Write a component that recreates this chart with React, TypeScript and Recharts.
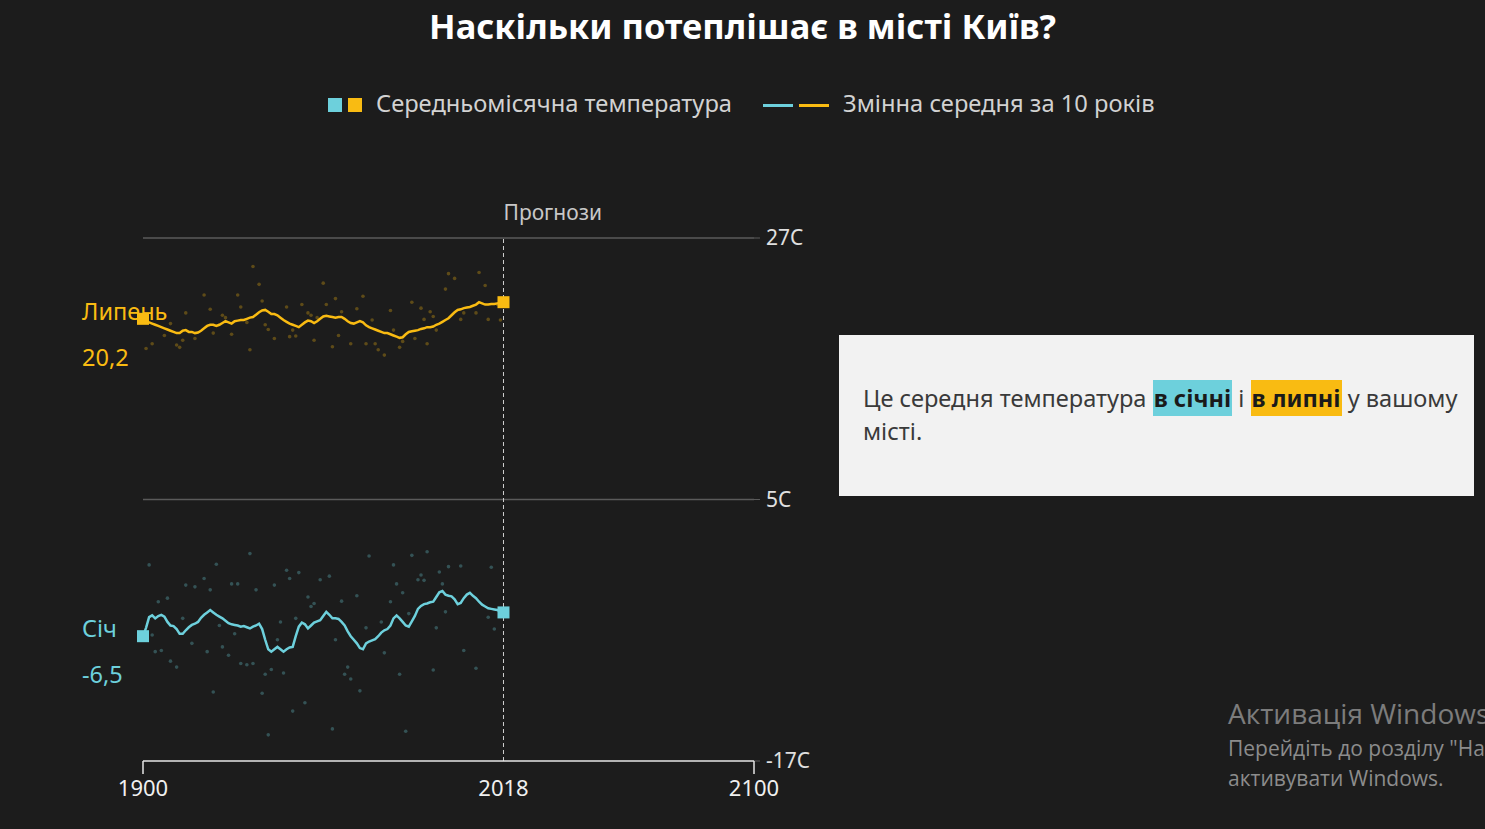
import {
  ComposedChart,
  Line,
  Scatter,
  XAxis,
  YAxis,
  ReferenceLine,
} from 'recharts';

const startYear = 1900;

// 10-year moving average, July (1900..2018)
const julyAvg = [
  20.2, 20.0, 19.9, 19.8, 19.7, 19.6, 19.5, 19.4, 19.3, 19.2,
  19.1, 19.0, 19.0, 19.2, 19.25, 19.1, 19.1, 19.0, 19.05, 19.2,
  19.4, 19.6, 19.7, 19.7, 19.6, 19.7, 19.85, 20.0, 19.9, 19.8,
  20.0, 20.05, 20.1, 20.1, 20.2, 20.3, 20.35, 20.55, 20.75, 20.9,
  20.95, 20.8, 20.6, 20.6, 20.5, 20.3, 20.1, 19.95, 19.8, 19.7,
  19.6, 19.5, 19.7, 19.9, 20.05, 20.0, 19.85, 20.0, 20.2, 20.4,
  20.45, 20.4, 20.35, 20.3, 20.35, 20.35, 20.2, 20.0, 19.85, 19.8,
  19.9, 20.0, 19.9, 19.65, 19.5, 19.4, 19.3, 19.2, 19.1, 19.0,
  19.0, 18.9, 18.8, 18.7, 18.6, 18.65, 18.9, 19.1, 19.15, 19.2,
  19.25, 19.35, 19.4, 19.5, 19.5, 19.55, 19.7, 19.8, 19.95, 20.1,
  20.25, 20.5, 20.75, 20.95, 21.0, 21.1, 21.15, 21.2, 21.3, 21.4,
  21.6, 21.5, 21.4, 21.4, 21.45, 21.45, 21.5, 21.55, 21.6,
];

// 10-year moving average, January (1900..2018)
const janAvg = [
  -6.5, -5.8, -4.9, -4.75, -5.0, -4.8, -4.7, -4.85, -5.3, -5.6,
  -5.65, -5.9, -6.3, -6.3, -6.0, -5.75, -5.55, -5.45, -5.3, -4.95,
  -4.7, -4.5, -4.3, -4.5, -4.7, -4.85, -5.0, -5.2, -5.4, -5.5,
  -5.55, -5.6, -5.7, -5.65, -5.75, -5.85, -5.7, -5.6, -5.45, -5.9,
  -6.8, -7.6, -7.8, -7.6, -7.4, -7.6, -7.8, -7.6, -7.45, -7.4,
  -6.5, -5.7, -5.35, -5.5, -5.85, -5.6, -5.35, -5.25, -5.15, -4.8,
  -4.45, -4.7, -5.0, -5.0, -5.05, -5.3, -5.6, -6.1, -6.5, -6.8,
  -7.1, -7.5, -7.6, -7.1, -6.95, -6.85, -6.75, -6.5, -6.2, -6.0,
  -5.9, -5.6, -5.0, -4.75, -5.0, -5.3, -5.6, -5.7, -5.25, -4.8,
  -4.2, -3.95, -3.8, -3.75, -3.65, -3.6, -3.2, -2.8, -2.7, -3.0,
  -3.1, -3.15, -3.4, -3.8, -3.7, -3.3, -3.0, -2.85, -3.1, -3.3,
  -3.6, -3.85, -4.0, -4.15, -4.2, -4.25, -4.3, -4.4, -4.5,
];

// yearly values [year, temp]
const julyDots: [number, number][] = [
  [1901, 17.7], [1903, 18.1], [1907, 18.8], [1909, 19.8], [1911, 18.0], [1912, 17.8],
  [1913, 18.4], [1914, 20.7], [1917, 18.55], [1920, 22.2], [1922, 21.0], [1923, 19.0],
  [1926, 20.5], [1927, 20.3], [1929, 18.9], [1931, 22.2], [1932, 21.2], [1934, 19.9],
  [1935, 17.6], [1936, 24.6], [1938, 23.1], [1939, 21.7], [1940, 19.7], [1941, 19.3],
  [1943, 18.55], [1947, 21.2], [1948, 18.7], [1949, 19.25], [1950, 18.75], [1952, 21.4],
  [1954, 20.7], [1955, 20.5], [1956, 18.4], [1957, 20.3], [1959, 23.2], [1960, 21.4],
  [1962, 17.85], [1963, 21.9], [1964, 18.8], [1965, 20.8], [1968, 18.1], [1970, 21.05],
  [1972, 22.1], [1973, 18.1], [1975, 20.1], [1976, 18.1], [1977, 17.6], [1979, 17.15],
  [1981, 20.9], [1982, 19.25], [1984, 17.8], [1985, 18.3], [1988, 21.6], [1989, 18.55],
  [1991, 21.1], [1992, 20.15], [1993, 18.1], [1994, 20.8], [1995, 20.4], [1996, 19.25],
  [1999, 22.7], [2000, 24.0], [2002, 23.6], [2004, 20.15], [2005, 20.7], [2009, 20.7],
  [2010, 24.1], [2012, 23.0], [2013, 20.15], [2016, 21.4], [2017, 20.1],
];

const janDots: [number, number][] = [
  [1902, -0.5], [1903, -6.4], [1904, -7.8], [1905, -3.6], [1906, -7.7], [1908, -3.3],
  [1909, -8.6], [1911, -9.1], [1913, -5.0], [1914, -2.2], [1916, -7.1], [1917, -2.35],
  [1920, -1.65], [1921, -7.8], [1922, -2.6], [1923, -11.2], [1924, -0.45], [1925, -5.6],
  [1926, -7.4], [1928, -8.1], [1929, -2.1], [1930, -6.3], [1931, -2.1], [1932, -8.8],
  [1934, -8.9], [1935, 0.45], [1936, -8.8], [1937, -2.6], [1939, -11.3], [1940, -9.7],
  [1941, -14.8], [1942, -9.3], [1943, -2.2], [1944, -6.8], [1945, -5.3], [1946, -9.6],
  [1947, -0.95], [1948, -1.65], [1949, -12.8], [1950, -5.0], [1951, -1.15], [1953, -12.1],
  [1954, -3.2], [1955, -4.0], [1956, -3.75], [1958, -1.75], [1961, -1.45], [1962, -14.3],
  [1963, -6.8], [1965, -3.55], [1966, -9.7], [1967, -9.1], [1968, -10.1], [1970, -3.1],
  [1971, -11.1], [1973, -5.8], [1974, 0.25], [1978, -5.3], [1979, -7.9], [1981, -3.6],
  [1982, -0.5], [1983, -2.1], [1984, -9.7], [1985, -2.85], [1986, -14.5], [1987, -4.6],
  [1988, 0.3], [1990, -1.75], [1991, -1.35], [1992, -1.8], [1993, 0.6], [1995, -9.35],
  [1996, -5.8], [1997, -1.1], [1998, -2.1], [1999, -4.45], [2000, -0.65], [2004, -0.6],
  [2005, -7.7], [2009, -9.2], [2013, -4.9], [2014, -0.7], [2015, -5.9],
];

const xTicks = [1900, 2018, 2100];
const yTicks = [-17, 5, 27];

const YELLOW = '#f9bb12';
const CYAN = '#6dd0dc';
const BG = '#1c1c1c';
const FONT = '"Noto Sans", sans-serif';

const lineData = julyAvg.map((v, i) => ({ year: startYear + i, jul: v, jan: janAvg[i] }));
const julyDotData = julyDots.map(([year, t]) => ({ year, t }));
const janDotData = janDots.map(([year, t]) => ({ year, t }));

const fmt = (v: number) => String(v).replace('.', ',');

function makeEndDot(color: string, name: string) {
  return (props: any) => {
    const { cx, cy, index, payload } = props;
    const last = index === lineData.length - 1;
    if (index !== 0 && !last) return <g key={index} />;
    const value = color === YELLOW ? payload.jul : payload.jan;
    return (
      <g key={index}>
        <rect x={cx - 6} y={cy - 6} width={12} height={12} fill={color} />
        {index === 0 && (
          <>
            <text x={82} y={cy - 8} fill={color} fontSize={23.5} fontFamily={FONT} dominantBaseline="central">
              {name}
            </text>
            <text x={82} y={cy + 38} fill={color} fontSize={23.5} fontFamily={FONT} dominantBaseline="central">
              {fmt(value)}
            </text>
          </>
        )}
      </g>
    );
  };
}

const XTick = (props: any) => {
  const { x, y, payload } = props;
  return (
    <g>
      {payload.value !== 2018 && <line x1={x} y1={y} x2={x} y2={y + 13} stroke="#e6e6e6" strokeWidth={1.5} />}
      <text x={x} y={y + 26} textAnchor="middle" dominantBaseline="central" fill="#f0f0f0" fontSize={22} fontFamily={FONT}>
        {payload.value}
      </text>
    </g>
  );
};

const ForecastLabel = (props: any) => {
  const { viewBox } = props;
  return (
    <text x={viewBox.x} y={viewBox.y - 26} fill="#c8c8c8" fontSize={21} fontFamily={FONT} dominantBaseline="central">
      Прогнози
    </text>
  );
};

export default function App() {
  return (
    <div style={{ position: 'absolute', left: 0, top: 0, width: 1485, height: 829, background: BG, overflow: 'hidden', fontFamily: FONT }}>
      <div style={{ position: 'absolute', left: 0, top: 2, width: 1485, textAlign: 'center', color: '#fff', fontSize: 34.5, fontWeight: 700 }}>
        Наскільки потеплішає в місті Київ?
      </div>

      {/* legend */}
      <div style={{ position: 'absolute', left: 328, top: 98, width: 14, height: 14, background: CYAN }} />
      <div style={{ position: 'absolute', left: 348, top: 98, width: 14, height: 14, background: YELLOW }} />
      <div style={{ position: 'absolute', left: 376, top: 87, color: '#d2d2d2', fontSize: 23.7 }}>Середньомісячна температура</div>
      <div style={{ position: 'absolute', left: 763, top: 104, width: 30, height: 3, background: CYAN }} />
      <div style={{ position: 'absolute', left: 799, top: 104, width: 30, height: 3, background: YELLOW }} />
      <div style={{ position: 'absolute', left: 843, top: 87, color: '#d2d2d2', fontSize: 23.7 }}>Змінна середня за 10 років</div>

      <div style={{ position: 'absolute', left: 0, top: 0 }}>
        <ComposedChart width={900} height={829} data={lineData} margin={{ top: 238, left: 143, right: 86, bottom: 28 }}>
          <XAxis
            dataKey="year"
            type="number"
            domain={[1900, 2100]}
            ticks={xTicks}
            height={40}
            axisLine={{ stroke: '#e6e6e6', strokeWidth: 1.5 }}
            tickLine={false}
            tickSize={0}
            tickMargin={0}
            tick={<XTick />}
          />
          <YAxis
            orientation="right"
            type="number"
            domain={[-17, 27]}
            ticks={yTicks}
            width={60}
            axisLine={false}
            tickLine={{ stroke: '#5a5a5a' }}
            tickSize={6}
            tickMargin={6}
            tickFormatter={(v) => `${v}C`}
            tick={{ fill: '#e0e0e0', fontSize: 21, fontFamily: FONT }}
          />
          <ReferenceLine y={27} stroke="#5a5a5a" strokeWidth={1.5} />
          <ReferenceLine y={5} stroke="#5a5a5a" strokeWidth={1.5} />
          <ReferenceLine x={2018} stroke="#d0d0d0" strokeDasharray="4 3" label={<ForecastLabel />} />
          <Scatter
            data={julyDotData}
            dataKey="t"
            isAnimationActive={false}
            shape={(p: any) => <circle cx={p.cx} cy={p.cy} r={1.8} fill={YELLOW} fillOpacity={0.3} />}
          />
          <Scatter
            data={janDotData}
            dataKey="t"
            isAnimationActive={false}
            shape={(p: any) => <circle cx={p.cx} cy={p.cy} r={1.8} fill={CYAN} fillOpacity={0.3} />}
          />
          <Line dataKey="jul" stroke={YELLOW} strokeWidth={2.5} isAnimationActive={false} dot={makeEndDot(YELLOW, 'Липень')} activeDot={false} />
          <Line dataKey="jan" stroke={CYAN} strokeWidth={2.5} isAnimationActive={false} dot={makeEndDot(CYAN, 'Січ')} activeDot={false} />
        </ComposedChart>
      </div>

      {/* info box */}
      <div style={{ position: 'absolute', left: 839, top: 335, width: 635, height: 161, background: '#f2f2f2', boxSizing: 'border-box', padding: '47px 2px 0 24px', color: '#3a3a3a', fontSize: 23.6, lineHeight: '33px' }}>
        Це середня температура{' '}
        <span style={{ background: CYAN, color: '#1a1a1a', fontWeight: 700, padding: '2px 1px' }}>в січні</span> і{' '}
        <span style={{ background: YELLOW, color: '#1a1a1a', fontWeight: 700, padding: '2px 1px' }}>в липні</span> у вашому місті.
      </div>

      {/* watermark */}
      <div style={{ position: 'absolute', left: 1228, top: 693, color: '#7c7c7c', whiteSpace: 'nowrap', fontFamily: '"Open Sans", sans-serif' }}>
        <div style={{ fontSize: 28, lineHeight: '40px' }}>Активація Windows</div>
        <div style={{ fontSize: 21, lineHeight: '30px', color: '#8c8c8c' }}>Перейдіть до розділу "Настройки", щоб</div>
        <div style={{ fontSize: 21, lineHeight: '30px', color: '#8c8c8c' }}>активувати Windows.</div>
      </div>
    </div>
  );
}
